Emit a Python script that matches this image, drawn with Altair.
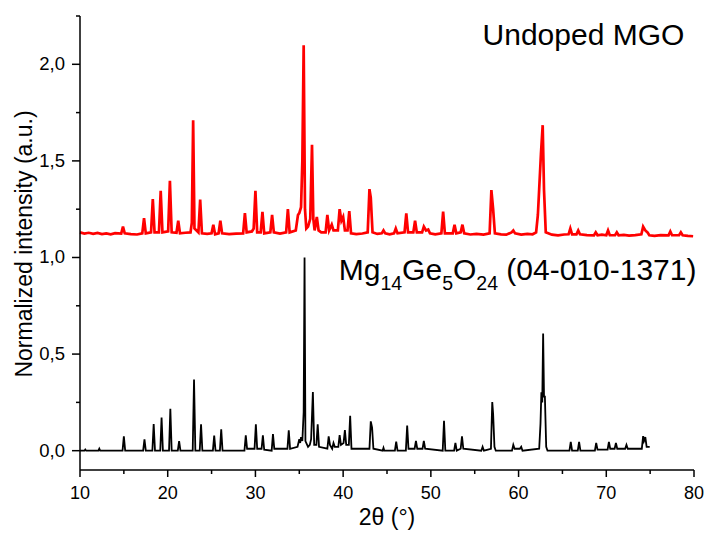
import altair as alt
import pandas as pd

# Undoped MGO measured pattern (red), 2theta in degrees / normalized intensity
red_x = [10.0, 10.5, 11.0, 11.5, 12.0, 12.5, 13.0, 13.5, 14.0, 14.7, 14.9, 15.1, 15.8, 16.5, 17.1, 17.3, 17.5,
         18.1, 18.3, 18.5, 19.0, 19.2, 19.4, 20.05, 20.25, 20.45, 21.0, 21.2, 21.4, 22.0, 22.6, 22.75, 22.9, 23.05,
         23.5, 23.7, 23.9, 24.5, 25.0, 25.2, 25.4, 25.8, 26.0, 26.2, 27.0, 27.8, 28.6, 28.8, 29.0, 29.6, 29.8, 30.0,
         30.2, 30.6, 30.8, 31.0, 31.7, 31.9, 32.1, 32.8, 33.5, 33.7, 33.9, 34.6, 34.85, 35.0, 35.2, 35.35, 35.5,
         35.65, 35.8, 36.0, 36.25, 36.45, 36.6, 36.75, 37.0, 37.2, 37.5, 38.0, 38.2, 38.4, 38.7, 38.9, 39.4, 39.6,
         39.8, 40.0, 40.2, 40.5, 40.7, 40.9, 41.5, 42.2, 42.8, 43.0, 43.15, 43.35, 43.9, 44.4, 44.6, 44.8, 45.3,
         45.8, 46.0, 46.2, 47.0, 47.2, 47.4, 48.0, 48.2, 48.4, 49.0, 49.2, 49.45, 49.7, 49.9, 50.5, 51.2, 51.4, 51.6,
         52.5, 52.7, 52.9, 53.4, 53.6, 53.8, 54.5, 55.2, 56.0, 56.7, 56.9, 57.1, 57.3, 58.0, 58.6, 59.2, 59.4, 59.6,
         60.3, 61.0, 61.6, 62.0, 62.2, 62.35, 62.55, 62.75, 62.9, 63.1, 63.8, 64.5, 65.2, 65.7, 65.9, 66.1, 66.6,
         66.8, 67.0, 67.8, 68.6, 68.8, 69.0, 69.5, 70.0, 70.2, 70.4, 71.0, 71.2, 71.4, 72.0, 72.6, 73.3, 74.0, 74.2,
         74.45, 74.7, 74.9, 75.5, 76.2, 77.1, 77.3, 77.5, 78.3, 78.5, 78.7, 79.3, 79.9]
red_y = [1.130, 1.124, 1.128, 1.122, 1.127, 1.121, 1.125, 1.120, 1.126, 1.124, 1.160, 1.125, 1.121, 1.119, 1.125,
         1.204, 1.125, 1.130, 1.302, 1.130, 1.130, 1.345, 1.130, 1.135, 1.397, 1.130, 1.128, 1.190, 1.125, 1.128,
         1.130, 1.180, 1.710, 1.150, 1.130, 1.300, 1.125, 1.122, 1.125, 1.170, 1.120, 1.125, 1.190, 1.125, 1.121,
         1.124, 1.125, 1.230, 1.130, 1.135, 1.150, 1.345, 1.130, 1.130, 1.236, 1.125, 1.130, 1.220, 1.130, 1.124,
         1.130, 1.250, 1.130, 1.140, 1.220, 1.230, 1.260, 1.500, 2.099, 1.250, 1.150, 1.160, 1.200, 1.583, 1.200,
         1.140, 1.210, 1.140, 1.130, 1.130, 1.220, 1.140, 1.170, 1.140, 1.140, 1.250, 1.190, 1.210, 1.140, 1.140,
         1.240, 1.125, 1.121, 1.124, 1.130, 1.354, 1.310, 1.130, 1.122, 1.125, 1.140, 1.125, 1.120, 1.125, 1.150,
         1.125, 1.130, 1.228, 1.130, 1.130, 1.190, 1.130, 1.130, 1.160, 1.140, 1.145, 1.125, 1.120, 1.125, 1.238,
         1.125, 1.125, 1.170, 1.125, 1.130, 1.170, 1.125, 1.119, 1.122, 1.118, 1.125, 1.349, 1.250, 1.125, 1.120,
         1.118, 1.130, 1.140, 1.125, 1.118, 1.122, 1.120, 1.130, 1.220, 1.354, 1.535, 1.685, 1.350, 1.130, 1.118,
         1.115, 1.119, 1.120, 1.150, 1.120, 1.120, 1.140, 1.120, 1.116, 1.115, 1.130, 1.115, 1.118, 1.115, 1.140,
         1.115, 1.115, 1.130, 1.115, 1.117, 1.113, 1.116, 1.120, 1.160, 1.140, 1.130, 1.115, 1.112, 1.116, 1.115,
         1.135, 1.115, 1.115, 1.130, 1.115, 1.112, 1.110]

# Reference pattern Mg14Ge5O24 (04-010-1371) (black)
black_x = [10.0, 10.5, 10.6, 10.7, 12.1, 12.2, 12.3, 14.85, 15.0, 15.15, 17.2, 17.35, 17.5, 18.25, 18.4, 18.55,
           19.15, 19.3, 19.45, 20.15, 20.3, 20.45, 21.15, 21.3, 21.45, 22.85, 23.0, 23.15, 23.65, 23.8, 23.95,
           25.15, 25.3, 25.45, 25.95, 26.1, 26.25, 28.75, 28.9, 29.05, 29.9, 30.05, 30.2, 30.7, 30.85, 31.0, 31.85,
           32.0, 32.15, 33.65, 33.8, 33.95, 34.8, 35.0, 35.1, 35.2, 35.35, 35.5, 35.6, 35.7, 36.0, 36.2, 36.35,
           36.55, 36.7, 36.95, 37.1, 37.25, 38.2, 38.35, 38.5, 38.75, 38.9, 39.05, 39.45, 39.6, 39.75, 40.05, 40.2,
           40.35, 40.65, 40.8, 40.95, 43.0, 43.15, 43.3, 43.45, 44.5, 44.6, 44.7, 45.9, 46.05, 46.2, 47.15, 47.3,
           47.45, 48.15, 48.3, 48.45, 49.05, 49.2, 49.35, 51.35, 51.5, 51.65, 52.65, 52.8, 52.95, 53.4, 53.55, 53.7,
           55.75, 55.9, 56.05, 56.85, 57.0, 57.1, 57.25, 57.4, 59.25, 59.4, 59.55, 60.15, 60.3, 60.45, 62.35, 62.5,
           62.6, 62.7, 62.8, 62.9, 63.0, 63.15, 63.3, 65.8, 65.95, 66.1, 66.75, 66.9, 67.05, 68.7, 68.85, 69.0,
           70.15, 70.3, 70.45, 70.95, 71.1, 71.25, 72.15, 72.3, 72.45, 74.05, 74.2, 74.3, 74.45, 74.6, 74.95]
black_y = [0.0, 0.0, 0.006, 0.0, 0.0, 0.010, 0.0, 0.0, 0.074, 0.0, 0.0, 0.058, 0.0, 0.0, 0.138, 0.0, 0.0, 0.172,
           0.0, 0.0, 0.217, 0.0, 0.0, 0.050, 0.0, 0.0, 0.369, 0.0, 0.0, 0.136, 0.0, 0.0, 0.078, 0.0, 0.0, 0.110, 0.0,
           0.0, 0.080, 0.010, 0.010, 0.136, 0.010, 0.010, 0.080, 0.005, 0.0, 0.086, 0.010, 0.010, 0.105, 0.010,
           0.020, 0.060, 0.040, 0.070, 0.050, 0.200, 1.000, 0.050, 0.020, 0.030, 0.060, 0.304, 0.030, 0.030, 0.136,
           0.020, 0.010, 0.074, 0.030, 0.010, 0.040, 0.020, 0.020, 0.080, 0.030, 0.040, 0.107, 0.030, 0.030, 0.181,
           0.010, 0.010, 0.152, 0.120, 0.010, 0.0, 0.015, 0.0, 0.0, 0.047, 0.0, 0.0, 0.130, 0.010, 0.010, 0.050,
           0.010, 0.010, 0.050, 0.010, 0.0, 0.155, 0.0, 0.0, 0.040, 0.0, 0.010, 0.074, 0.010, 0.0, 0.020, 0.0, 0.010,
           0.252, 0.190, 0.020, 0.0, 0.0, 0.030, 0.010, 0.010, 0.020, 0.0, 0.010, 0.140, 0.302, 0.250, 0.607, 0.280,
           0.280, 0.020, 0.0, 0.0, 0.045, 0.0, 0.0, 0.045, 0.0, 0.0, 0.040, 0.005, 0.005, 0.045, 0.010, 0.010, 0.040,
           0.010, 0.010, 0.030, 0.010, 0.010, 0.075, 0.050, 0.070, 0.020, 0.020]

# Annotation texts (the formula is split into normal / subscript pieces)
title_text = "Undoped MGO"
title_pos = (78.9, 2.10)
formula_pieces = ["Mg", "14", "Ge", "5", "O", "24", "(04-010-1371)"]
formula_is_sub = [False, True, False, True, False, True, False]
formula_gap_before = [0, 0, 0, 0, 0, 0, 8.3]   # a word space before the catalogue number
formula_pos = (39.5, 0.883)

# axes: tick values and tick labels
x_major = [10, 20, 30, 40, 50, 60, 70, 80]
x_labels = ["10", "20", "30", "40", "50", "60", "70", "80"]
x_minor = [15, 25, 35, 45, 55, 65, 75]
y_major = [0.0, 0.5, 1.0, 1.5, 2.0]
y_labels = ["0,0", "0,5", "1,0", "1,5", "2,0"]
y_minor = [0.25, 0.75, 1.25, 1.75, 2.25]
x_title = "2θ (°)"
y_title = "Normalized intensity (a.u.)"

FONT = "Liberation Sans"
BIG, SMALL = 30, 19.5
W, H = 614, 454
# Arial/Liberation Sans advance widths (em) used to place the formula pieces
ADV = {"M": 0.833, "g": 0.556, "G": 0.778, "e": 0.556, "O": 0.778, "(": 0.333, ")": 0.333, "-": 0.333}

def piece_width(s, size):
    return sum(ADV.get(c, 0.556) for c in s) * size

df_red = pd.DataFrame({"x": red_x, "y": red_y})
df_black = pd.DataFrame({"x": black_x, "y": black_y})
one = pd.DataFrame({"k": [0]})

xscale = alt.Scale(domain=[10, 80], nice=False, zero=False)
yscale = alt.Scale(domain=[-0.1, 2.25], nice=False, zero=False)

def X(field="x"):
    return alt.X(f"{field}:Q", scale=xscale, axis=None)

def Y(field="y"):
    return alt.Y(f"{field}:Q", scale=yscale, axis=None)

red = alt.Chart(df_red).mark_line(color="#ff0000", strokeWidth=2.7).encode(x=X(), y=Y())
black = alt.Chart(df_black).mark_line(color="#000000", strokeWidth=1.8).encode(x=X(), y=Y())

layers = [red, black]

# axis lines (left and bottom spines)
layers.append(alt.Chart(one).mark_rule(color="black", strokeWidth=1.5).encode(
    x=alt.value(0), x2=alt.value(W), y=alt.value(H)))
layers.append(alt.Chart(one).mark_rule(color="black", strokeWidth=1.5).encode(
    x=alt.value(0), y=alt.value(0), y2=alt.value(H)))

# tick marks (outward), placed through the scales
for vals, length in [(x_major, 7), (x_minor, 4)]:
    layers.append(
        alt.Chart(pd.DataFrame({"x": vals})).mark_rule(color="black", strokeWidth=1.5).encode(
            x=X(), y=alt.value(H), y2=alt.value(H + length))
    )
for vals, length in [(y_major, 8), (y_minor, 4)]:
    layers.append(
        alt.Chart(pd.DataFrame({"y": vals})).mark_rule(color="black", strokeWidth=1.5).encode(
            y=Y(), x=alt.value(0), x2=alt.value(-length))
    )

# tick labels
layers.append(
    alt.Chart(pd.DataFrame({"x": x_major, "t": x_labels})).mark_text(
        font=FONT, fontSize=18, align="center", baseline="alphabetic", color="black"
    ).encode(x=X(), y=alt.value(H + 29), text="t:N")
)
layers.append(
    alt.Chart(pd.DataFrame({"y": y_major, "t": y_labels})).mark_text(
        font=FONT, fontSize=18.5, align="right", baseline="middle", color="black"
    ).encode(y=Y(), x=alt.value(-15), text="t:N")
)

# axis titles
layers.append(
    alt.Chart(pd.DataFrame({"t": [x_title]})).mark_text(
        font=FONT, fontSize=23, align="center", baseline="alphabetic", color="black"
    ).encode(x=alt.value(W / 2), y=alt.value(H + 55), text="t:N")
)
layers.append(
    alt.Chart(pd.DataFrame({"t": [y_title]})).mark_text(
        font=FONT, fontSize=23, align="center", baseline="alphabetic", color="black", angle=270
    ).encode(x=alt.value(-48), y=alt.value(H / 2 + 1), text="t:N")
)

# annotations
df_title = pd.DataFrame({"t": [title_text], "x": [title_pos[0]], "y": [title_pos[1]]})
layers.append(
    alt.Chart(df_title).mark_text(font=FONT, fontSize=30, align="right", baseline="alphabetic", color="black")
    .encode(x=X(), y=Y(), text="t:N")
)

offset = 0.0
for piece, sub, gap in zip(formula_pieces, formula_is_sub, formula_gap_before):
    size = SMALL if sub else BIG
    offset += gap
    dfp = pd.DataFrame({"t": [piece], "x": [formula_pos[0]], "y": [formula_pos[1]]})
    layers.append(
        alt.Chart(dfp).mark_text(font=FONT, fontSize=size, align="left", baseline="alphabetic", color="black",
                                 dx=offset, dy=10 if sub else 0)
        .encode(x=X(), y=Y(), text="t:N")
    )
    offset += piece_width(piece, size)

chart = alt.layer(*layers).properties(
    width=W, height=H,
    autosize=alt.AutoSizeParams(type="none"),
    padding={"left": 80, "top": 16, "right": 13, "bottom": 63},
).configure_view(stroke=None)

chart.save("out.html", embed_options={"renderer": "svg", "actions": False})
